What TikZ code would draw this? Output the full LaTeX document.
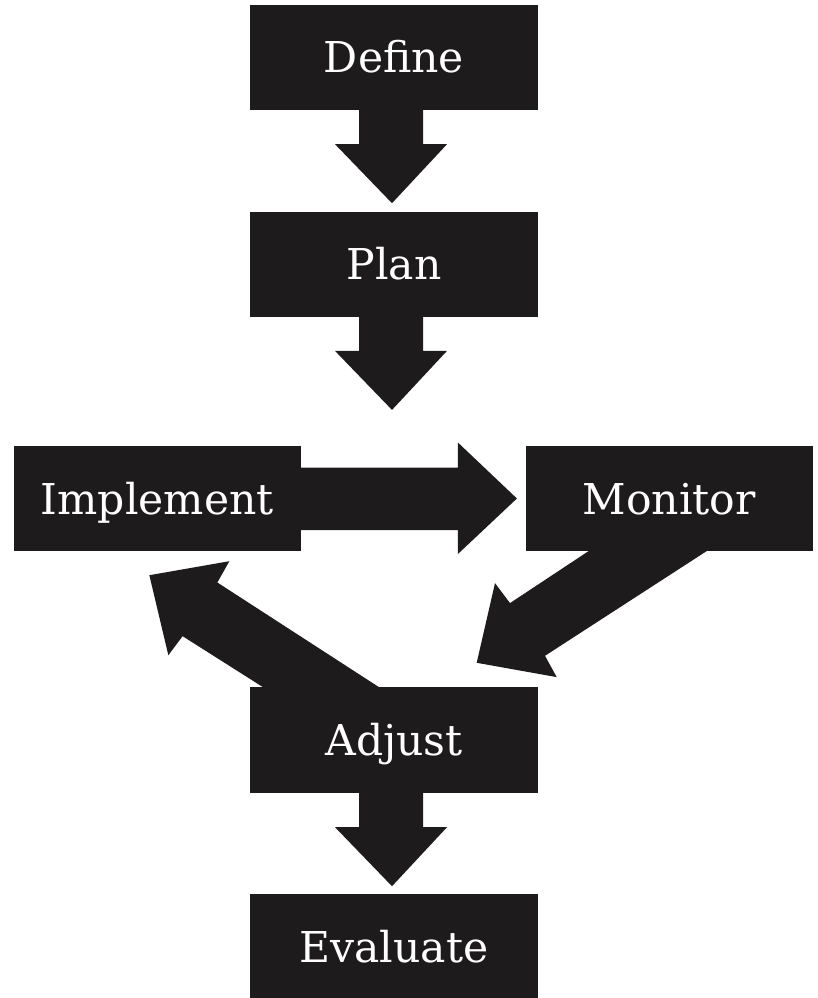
\documentclass[tikz,border=0pt]{standalone}
\usepackage{fontspec}
\setmainfont{DejaVu Serif}
\usetikzlibrary{calc}
\definecolor{boxblack}{RGB}{30,27,28}
\begin{document}
\begin{tikzpicture}[x=1pt,y=-1pt,
  stepbox/.style={fill=boxblack, text=white, inner sep=0pt,
    minimum height=105pt, text height=31pt, text depth=0pt,
    font=\fontsize{42.5}{50}\selectfont},
  arrowfill/.style={fill=boxblack},
  downarr/.pic={\fill[arrowfill] (-35,0) -- (-35,34) -- (-59,34) -- (-2,93) -- (53,34) -- (29,34) -- (29,0) -- cycle;}
]
\useasboundingbox (0,0) rectangle (817,998);

\node[stepbox, minimum width=288pt] (define) at (394,57.5) {Define};
\node[stepbox, minimum width=288pt] (plan) at (394,264.2) {Plan};
\node[stepbox, minimum width=286.7pt] (implement) at (157.35,498.5) {Implement};
\node[stepbox, minimum width=286.7pt] (monitor) at (669.35,498.5) {Monitor};
\node[stepbox, minimum width=288pt, minimum height=106pt] (adjust) at (394,740) {Adjust};
\node[stepbox, minimum width=288pt, minimum height=106pt] (evaluate) at (394,946.5) {Evaluate};

% Define -> Plan, Plan -> Implement/Monitor gap, Adjust -> Evaluate
\pic at (define.south) {downarr};
\pic at (plan.south) {downarr};
\pic at (adjust.south) {downarr};

% Implement -> Monitor
\fill[arrowfill, shift={(implement.east)}]
  (-1,-31) -- (157,-31) -- (157,-56) -- (216,0) -- (157,55.5) -- (157,31.5) -- (-1,31.5) -- cycle;

% Monitor -> Adjust
\fill[arrowfill]
  ($(monitor.south)+(-79.4,-1)$) -- ($(monitor.south)+(38.7,-1)$)
  -- ($(adjust.north)+(151,-31)$) -- ($(adjust.north)+(162.7,-9.7)$)
  -- ($(adjust.north)+(82.7,-24)$) -- ($(adjust.north)+(101,-103.7)$)
  -- ($(adjust.north)+(116,-83.7)$) -- cycle;

% Adjust -> Implement
\fill[arrowfill]
  ($(adjust.north)+(-14,1)$) -- ($(implement.south)+(60,31.3)$)
  -- ($(implement.south)+(72,10)$) -- ($(implement.south)+(-8,24)$)
  -- ($(implement.south)+(11,104)$) -- ($(implement.south)+(25.3,85)$)
  -- ($(adjust.north)+(-130,1)$) -- cycle;
\end{tikzpicture}
\end{document}
